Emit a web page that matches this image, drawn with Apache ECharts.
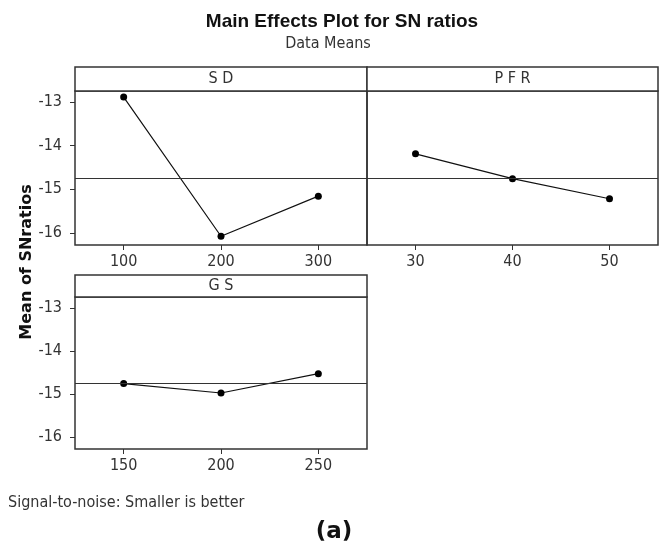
<!DOCTYPE html>
<html><head><meta charset="utf-8">
<script src="https://cdn.jsdelivr.net/npm/echarts@6/dist/echarts.min.js"></script>
<style>html,body{margin:0;padding:0;background:#fff}#c{width:661px;height:549px}</style>
</head><body><div id="c"></div>
<script>
// ---- data ----
const sdLevels = ['100', '200', '300'];
const sdMeans = [-12.89, -16.08, -15.16];
const pfrLevels = ['30', '40', '50'];
const pfrMeans = [-14.19, -14.76, -15.22];
const gsLevels = ['150', '200', '250'];
const gsMeans = [-14.76, -14.98, -14.53];
const grandMean = -14.75;
const yTicks = [-16, -15, -14, -13];
const yMin = -16.28, yMax = -12.75;
const panelNames = ['S D', 'P F R', 'G S'];

// ---- layout ----
const NARROW = "'Liberation Sans Narrow','DejaVu Sans Condensed','Liberation Sans',sans-serif";
const INK = '#333';
const grids = [
  {left: 75, top: 91, width: 292, height: 154},
  {left: 367, top: 91, width: 291, height: 154},
  {left: 75, top: 297, width: 292, height: 152}
];
const stripH = [24, 24, 22];

const chart = echarts.init(document.getElementById('c'));

function xAxis(i, levels) {
  return {
    type: 'category', gridIndex: i, data: levels, boundaryGap: true,
    axisLine: {show: false},
    axisTick: {show: true, alignWithLabel: true, length: 5, lineStyle: {color: INK, width: 1}},
    axisLabel: {color: '#333', fontSize: 16, fontFamily: NARROW, margin: 9},
    splitLine: {show: false}
  };
}
function yAxis(i, showLabels) {
  return {
    type: 'value', gridIndex: i, min: yMin, max: yMax,
    axisLine: {show: false},
    axisTick: {show: showLabels, length: 5, customValues: yTicks, lineStyle: {color: INK, width: 1}},
    axisLabel: {show: showLabels, customValues: yTicks, color: '#333', fontSize: 16, fontFamily: NARROW, margin: 13},
    splitLine: {show: false}
  };
}
function series(i, data) {
  return {
    type: 'line', xAxisIndex: i, yAxisIndex: i, data: data,
    symbol: 'circle', symbolSize: 7,
    itemStyle: {color: '#000'},
    lineStyle: {color: '#111', width: 1.2},
    silent: true,
    markLine: {
      silent: true, symbol: ['none', 'none'],
      label: {show: false},
      lineStyle: {color: INK, width: 1, type: 'solid'},
      data: [{yAxis: grandMean}]
    }
  };
}

const graphics = [];
grids.forEach((g, i) => {
  graphics.push({
    type: 'rect', shape: {x: g.left, y: g.top - stripH[i], width: g.width, height: stripH[i]},
    style: {fill: '#fff', stroke: INK, lineWidth: 1.5}
  });
  graphics.push({
    type: 'text', x: g.left + g.width / 2, y: g.top - stripH[i] / 2,
    style: {text: panelNames[i], font: '16px ' + NARROW, fill: '#333', align: 'center', verticalAlign: 'middle'}
  });
});
graphics.push({
  type: 'text', x: 342, y: 22,
  style: {text: 'Main Effects Plot for SN ratios', font: 'bold 19px "Liberation Sans",Arial,sans-serif', fill: '#111', align: 'center', verticalAlign: 'middle'}
});
graphics.push({
  type: 'text', x: 328, y: 44,
  style: {text: 'Data Means', font: '16px ' + NARROW, fill: '#333', align: 'center', verticalAlign: 'middle'}
});
graphics.push({
  type: 'text', x: 27, y: 262, rotation: Math.PI / 2,
  style: {text: 'Mean of SNratios', font: 'bold 16px "DejaVu Sans",sans-serif', fill: '#111', align: 'center', verticalAlign: 'middle'}
});
graphics.push({
  type: 'text', x: 8, y: 503,
  style: {text: 'Signal-to-noise: Smaller is better', font: '16px ' + NARROW, fill: '#333', align: 'left', verticalAlign: 'middle'}
});
graphics.push({
  type: 'text', x: 334, y: 532,
  style: {text: '(a)', font: 'bold 23px "DejaVu Sans",sans-serif', fill: '#111', align: 'center', verticalAlign: 'middle'}
});

chart.setOption({
  animation: false,
  backgroundColor: '#fff',
  grid: grids.map(g => Object.assign({show: true, borderColor: INK, borderWidth: 1.5, backgroundColor: 'transparent'}, g)),
  xAxis: [xAxis(0, sdLevels), xAxis(1, pfrLevels), xAxis(2, gsLevels)],
  yAxis: [yAxis(0, true), yAxis(1, false), yAxis(2, true)],
  series: [series(0, sdMeans), series(1, pfrMeans), series(2, gsMeans)],
  graphic: graphics
});
</script>
</body></html>
